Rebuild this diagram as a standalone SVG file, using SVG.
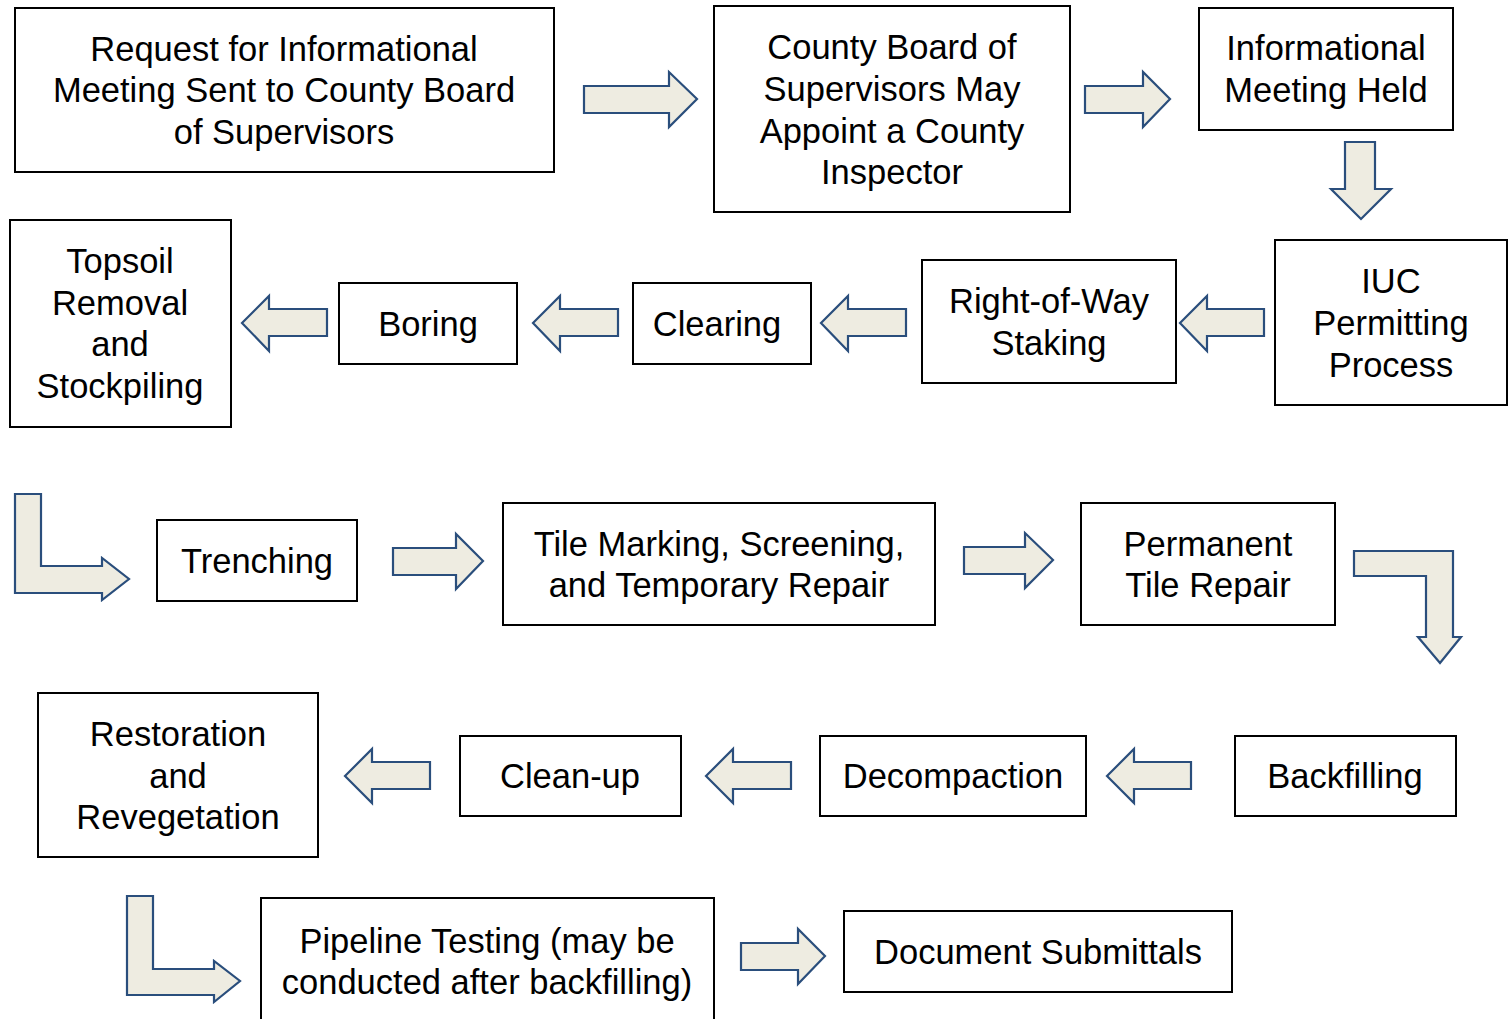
<svg xmlns="http://www.w3.org/2000/svg" width="1508" height="1019" viewBox="0 0 1508 1019">
<style>
.box{fill:#fff;stroke:#000;stroke-width:2}
.t{font-family:"Liberation Sans",Arial,sans-serif;font-size:34.5px;fill:#000;text-anchor:middle}
.ar{fill:#EEECE1;stroke:#2A4E7C;stroke-width:2.2;stroke-linejoin:miter}
</style>
<rect width="1508" height="1019" fill="#fff"/>
<g id="connectors">
<path class="ar" d="M584,86 H669 V72 L697,99 L669,127 V113 H584 Z"/>
<path class="ar" d="M1085,86 H1143 V72 L1170,99 L1143,127 V113 H1085 Z"/>
<path class="ar" d="M1345,142 H1375 V189 H1391 L1361,219 L1331,189 H1345 Z"/>
<path class="ar" d="M1264,309 H1207 V296 L1180,323 L1207,351 V336 H1264 Z"/>
<path class="ar" d="M906,309 H848 V296 L821,323 L848,351 V336 H906 Z"/>
<path class="ar" d="M618,309 H560 V296 L533,323 L560,351 V336 H618 Z"/>
<path class="ar" d="M327,309 H269 V296 L242,323 L269,351 V336 H327 Z"/>
<path class="ar" d="M15,494 H41 V566 H102 V558 L129,579 L102,600 V593 H15 Z"/>
<path class="ar" d="M393,548 H456 V534 L483,561 L456,589 V575 H393 Z"/>
<path class="ar" d="M964,547 H1025 V533 L1053,560 L1025,588 V574 H964 Z"/>
<path class="ar" d="M1354,551 H1453 V637 H1461 L1440,663 L1418,637 H1426 V576 H1354 Z"/>
<path class="ar" d="M1191,762 H1134 V749 L1107,776 L1134,803 V789 H1191 Z"/>
<path class="ar" d="M791,762 H733 V749 L706,776 L733,803 V789 H791 Z"/>
<path class="ar" d="M430,762 H372 V749 L345,776 L372,803 V789 H430 Z"/>
<path class="ar" d="M127,896 H153 V969 H214 V961 L240,981 L214,1002 V995 H127 Z"/>
<path class="ar" d="M741,943 H798 V929 L825,956 L798,984 V970 H741 Z"/>
</g>
<g id="n1"><rect class="box" x="15" y="8" width="539" height="164"/>
<text class="t" x="284" y="61">Request for Informational</text>
<text class="t" x="284" y="102">Meeting Sent to County Board</text>
<text class="t" x="284" y="144">of Supervisors</text></g>
<g id="n2"><rect class="box" x="714" y="6" width="356" height="206"/>
<text class="t" x="892" y="59">County Board of</text>
<text class="t" x="892" y="101">Supervisors May</text>
<text class="t" x="892" y="143">Appoint a County</text>
<text class="t" x="892" y="184">Inspector</text></g>
<g id="n3"><rect class="box" x="1199" y="8" width="254" height="122"/>
<text class="t" x="1326" y="60">Informational</text>
<text class="t" x="1326" y="102">Meeting Held</text></g>
<g id="n4"><rect class="box" x="1275" y="240" width="232" height="165"/>
<text class="t" x="1391" y="293">IUC</text>
<text class="t" x="1391" y="335">Permitting</text>
<text class="t" x="1391" y="377">Process</text></g>
<g id="n5"><rect class="box" x="922" y="260" width="254" height="123"/>
<text class="t" x="1049" y="313">Right-of-Way</text>
<text class="t" x="1049" y="355">Staking</text></g>
<g id="n6"><rect class="box" x="633" y="283" width="178" height="81"/>
<text class="t" x="717" y="336">Clearing</text></g>
<g id="n7"><rect class="box" x="339" y="283" width="178" height="81"/>
<text class="t" x="428" y="336">Boring</text></g>
<g id="n8"><rect class="box" x="10" y="220" width="221" height="207"/>
<text class="t" x="120" y="273">Topsoil</text>
<text class="t" x="120" y="315">Removal</text>
<text class="t" x="120" y="356">and</text>
<text class="t" x="120" y="398">Stockpiling</text></g>
<g id="n9"><rect class="box" x="157" y="520" width="200" height="81"/>
<text class="t" x="257" y="573">Trenching</text></g>
<g id="n10"><rect class="box" x="503" y="503" width="432" height="122"/>
<text class="t" x="719" y="556">Tile Marking, Screening,</text>
<text class="t" x="719" y="597">and Temporary Repair</text></g>
<g id="n11"><rect class="box" x="1081" y="503" width="254" height="122"/>
<text class="t" x="1208" y="556">Permanent</text>
<text class="t" x="1208" y="597">Tile Repair</text></g>
<g id="n12"><rect class="box" x="1235" y="736" width="221" height="80"/>
<text class="t" x="1345" y="788">Backfilling</text></g>
<g id="n13"><rect class="box" x="820" y="736" width="266" height="80"/>
<text class="t" x="953" y="788">Decompaction</text></g>
<g id="n14"><rect class="box" x="460" y="736" width="221" height="80"/>
<text class="t" x="570" y="788">Clean-up</text></g>
<g id="n15"><rect class="box" x="38" y="693" width="280" height="164"/>
<text class="t" x="178" y="746">Restoration</text>
<text class="t" x="178" y="788">and</text>
<text class="t" x="178" y="829">Revegetation</text></g>
<g id="n16"><rect class="box" x="261" y="898" width="453" height="140"/>
<text class="t" x="487" y="953">Pipeline Testing (may be</text>
<text class="t" x="487" y="994">conducted after backfilling)</text></g>
<g id="n17"><rect class="box" x="844" y="911" width="388" height="81"/>
<text class="t" x="1038" y="964">Document Submittals</text></g>
</svg>
